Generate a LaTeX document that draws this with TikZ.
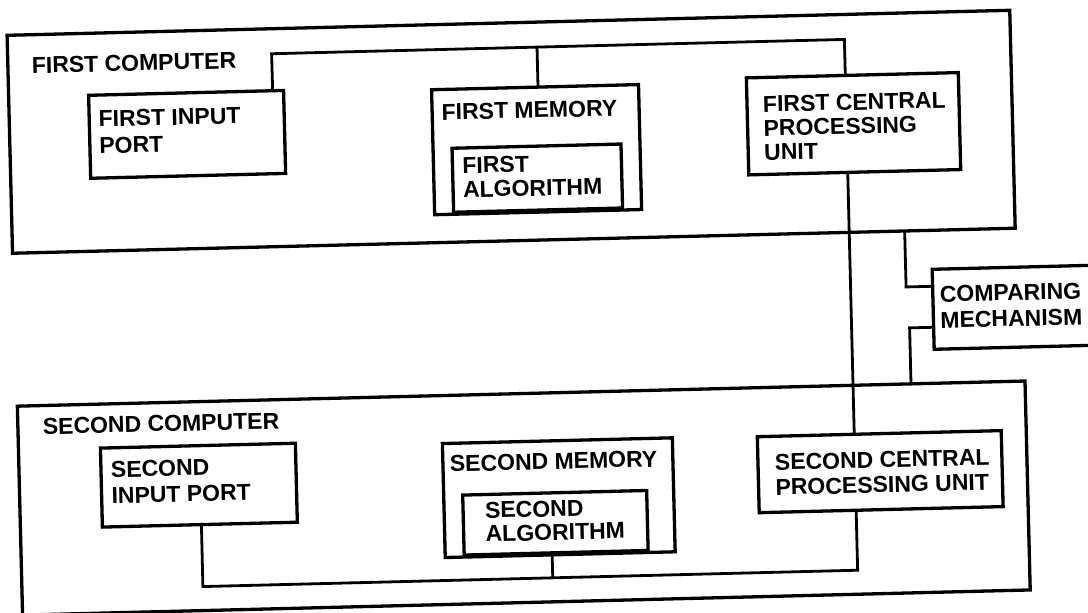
\documentclass[tikz,border=0pt]{standalone}
\usepackage{fontspec}
\setmainfont{Liberation Sans}
\usetikzlibrary{calc}
\begin{document}
\begin{tikzpicture}[x=1pt,y=-1pt,
  box/.style={draw, line width=3.3pt, inner sep=0pt, outer sep=0pt, anchor=north west},
  wire/.style={line width=2.8pt, line join=miter},
  lbl/.style={anchor=north west, inner sep=0pt, outer sep=0pt, align=left,
    font=\fontsize{23}{#1}\selectfont\bfseries},
  lbl/.default=25]
\fill[white] (0,0) rectangle (1088,613);
\clip (0,0) rectangle (1088,613);
\begin{scope}[rotate around={1.43:(544,306)}, transform shape]
  % first computer
  \node[box, minimum width=1003pt, minimum height=218pt] (fc) at (14,22) {};
  \node[box, minimum width=195pt, minimum height=83pt] (fip) at (94,84) {};
  \node[box, minimum width=207pt, minimum height=125pt] (mem1) at (437,87) {};
  \node[box, minimum width=169pt, minimum height=64pt] (alg1) at (456,146) {};
  \node[box, minimum width=212pt, minimum height=97pt] (cpu1) at (752,83) {};
  % comparing mechanism
  \node[box, minimum width=167pt, minimum height=80pt] (cmp) at (933,279) {};
  % second computer
  \node[box, minimum width=1008pt, minimum height=209pt] (sc) at (15,393) {};
  \node[box, minimum width=195pt, minimum height=79pt] (sip) at (97,437) {};
  \node[box, minimum width=230pt, minimum height=114pt] (mem2) at (439,441) {};
  \node[box, minimum width=184pt, minimum height=60pt] (alg2) at (458,493) {};
  \node[box, minimum width=244pt, minimum height=76pt] (cpu2) at (754,442) {};

  % labels
  \node[lbl] (fcl) at (38,44.7) {FIRST COMPUTER};
  \node[lbl=27] (fipl) at (103.5,99.7) {FIRST INPUT\\PORT};
  \node[lbl] (mem1l) at (446.6,101.7) {FIRST MEMORY};
  \node[lbl=24.4] (alg1l) at (466,155.3) {FIRST\\ALGORITHM};
  \node[lbl=24] (cpu1l) at (768,101.7) {FIRST CENTRAL\\PROCESSING\\UNIT};
  \node[lbl=26] (cmpl) at (940,296) {COMPARING\\MECHANISM};
  \node[lbl] (scl) at (40,406) {SECOND COMPUTER};
  \node[lbl=26] (sipl) at (107,450.7) {SECOND\\INPUT PORT};
  \node[lbl] (mem2l) at (446,453.4) {SECOND MEMORY};
  \node[lbl=23.5] (alg2l) at (480,500.7) {SECOND\\ALGORITHM};
  \node[lbl=25] (cpu2l) at (771,460) {SECOND CENTRAL\\PROCESSING UNIT};

  % bus corners
  \coordinate (b1l) at (278,47);
  \coordinate (b1m) at (543.5,47);
  \coordinate (b1r) at (851,47);
  \coordinate (k1) at (906.5,296);
  \coordinate (k2) at (909,337);
  \coordinate (b2l) at (196,578);
  \coordinate (b2m) at (546,578);
  \coordinate (b2r) at (851,578);

  % first computer bus
  \draw[wire] ($(fip.north west)!0.944!(fip.north east)$) -- (b1l) -- (b1r)
    -- ($(cpu1.north west)!0.467!(cpu1.north east)$);
  \draw[wire] (b1m) -- ($(mem1.north west)!0.5145!(mem1.north east)$);
  % link between the two processors
  \draw[wire] ($(cpu1.south west)!0.467!(cpu1.south east)$)
    -- ($(cpu2.north west)!0.3975!(cpu2.north east)$);
  % links to the comparing mechanism
  \draw[wire] ($(fc.south west)!0.8898!(fc.south east)$) -- (k1)
    -- ($(cmp.north west)!0.2125!(cmp.south west)$);
  \draw[wire] ($(cmp.north west)!0.725!(cmp.south west)$) -- (k2)
    -- ($(sc.north west)!0.8869!(sc.north east)$);
  % second computer bus
  \draw[wire] ($(sip.south west)!0.508!(sip.south east)$) -- (b2l) -- (b2r)
    -- ($(cpu2.south west)!0.3975!(cpu2.south east)$);
  \draw[wire] ($(mem2.south west)!0.465!(mem2.south east)$) -- (b2m);
\end{scope}
\end{tikzpicture}
\end{document}
